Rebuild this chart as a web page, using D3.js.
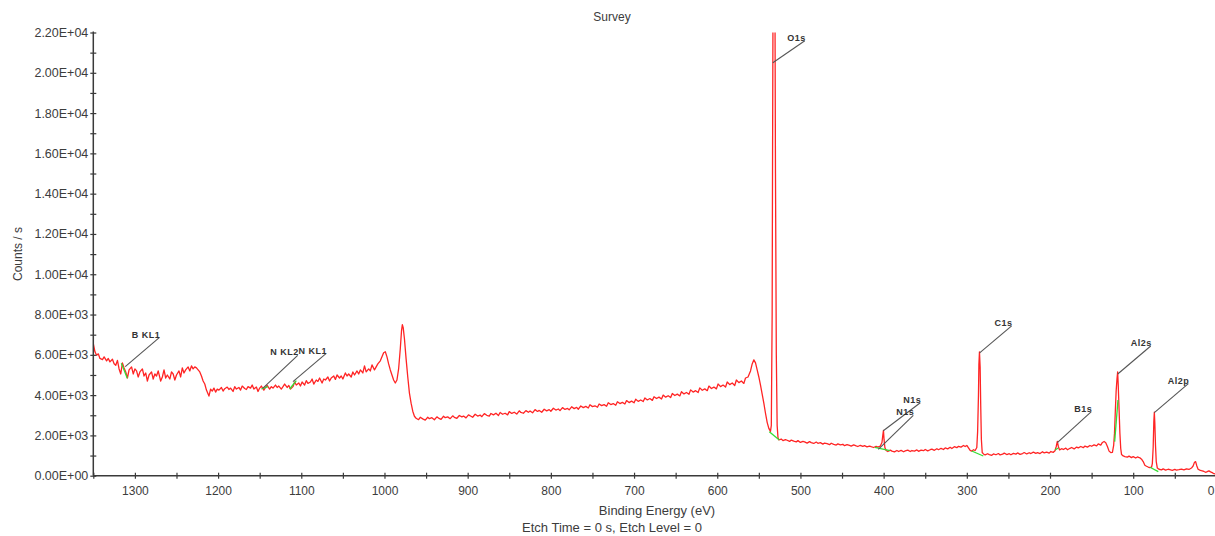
<!DOCTYPE html>
<html>
<head>
<meta charset="utf-8">
<script src="https://cdn.jsdelivr.net/npm/d3@7"></script>
<style>
  html, body { margin: 0; padding: 0; background: #fff; }
  svg { display: block; font-family: "Liberation Sans", Arial, sans-serif; }
</style>
</head>
<body>
<svg id="chart" width="1215" height="536"></svg>
<script>
// XPS survey spectrum: [binding energy (eV), counts / s]
const spectrum = [
  [1350,6550],[1348,6150],[1346,5980],[1344,6050],[1342,5820],[1339,5760],[1337,5900],[1334,5700],
  [1332,5820],[1330,5650],[1327,5780],[1325,5560],[1323,5480],[1321,5720],[1319,5300],[1317,5050],
  [1315,5600],[1313,5350],[1311,5150],[1309,4850],[1307,5250],[1304,5400],[1302,5050],[1300,5300],
  [1298,5200],[1296,4900],[1294,5150],[1291,5300],[1289,4950],[1287,5100],[1285,4700],[1283,5000],
  [1280,5150],[1278,4800],[1276,5050],[1274,4950],[1272,5200],[1269,4700],[1267,4900],[1265,5250],
  [1263,4850],[1261,5000],[1258,4800],[1256,5150],[1254,5050],[1252,4750],[1250,5000],[1247,5200],
  [1245,4900],[1243,5350],[1241,5100],[1239,5250],[1236,5400],[1234,5200],[1232,5450],[1230,5300],
  [1228,5400],[1226,5350],[1224,5250],[1222,5150],[1220,4950],[1218,4700],[1216,4550],[1214,4250],
  [1212,4050],[1211,3950],[1209,4300],[1207,4200],[1205,4350],[1203,4150],[1201,4300],[1199,4250],
  [1196,4380],[1194,4200],[1192,4320],[1189,4400],[1187,4280],[1185,4350],[1182,4180],[1180,4420],
  [1178,4300],[1175,4380],[1173,4250],[1171,4450],[1168,4330],[1166,4280],[1164,4420],[1161,4350],
  [1159,4500],[1157,4300],[1154,4400],[1152,4180],[1150,4350],[1148,4450],[1145,4250],[1143,4380],
  [1141,4480],[1138,4300],[1136,4420],[1134,4350],[1131,4500],[1129,4380],[1127,4450],[1124,4300],
  [1122,4420],[1120,4550],[1117,4380],[1115,4480],[1113,4300],[1110,4420],[1108,4650],[1106,4500],
  [1103,4600],[1101,4450],[1099,4650],[1096,4500],[1094,4720],[1092,4580],[1089,4650],[1087,4800],
  [1085,4550],[1082,4750],[1080,4680],[1078,4850],[1075,4600],[1073,4800],[1071,4750],[1068,4900],
  [1066,4700],[1064,4850],[1061,4950],[1059,4780],[1057,5000],[1054,4850],[1052,4950],[1050,4800],
  [1047,5100],[1045,4950],[1043,5050],[1040,4900],[1038,5150],[1036,5000],[1033,5200],[1031,5050],
  [1029,5250],[1026,5100],[1024,5450],[1022,5150],[1019,5300],[1017,5200],[1015,5500],[1012,5250],
  [1010,5400],[1008,5550],[1005,5700],[1003,5900],[1001,6100],[999,6150],[997,5900],[995,5550],
  [993,5250],[991,5000],[989,4750],[987,4600],[985,4750],[983,5300],[981,6300],[979.5,7200],
  [978.5,7500],[977.5,7350],[976,6800],[974,5800],[972,4900],[970,4100],[968,3600],[966,3200],
  [964,2950],[962,2850],[959,2780],[957,2900],[954,2820],[951,2760],[948,2900],[946,2830],
  [943,2880],[940,2780],[937,2920],[935,2860],[932,2800],[929,2950],[927,2880],[924,2920],
  [921,2830],[918,2970],[916,2900],[913,2850],[910,2990],[907,2920],[905,2960],[902,2870],
  [899,3020],[896,2950],[894,2900],[891,3050],[888,2960],[885,3010],[883,2930],[880,3080],
  [877,3000],[874,2960],[872,3090],[869,3020],[866,3100],[863,2990],[861,3140],[858,3050],
  [855,3100],[852,3020],[850,3180],[847,3090],[844,3150],[841,3060],[838,3220],[836,3140],
  [833,3100],[830,3230],[827,3150],[825,3210],[822,3120],[819,3280],[816,3190],[814,3240],
  [811,3150],[808,3300],[805,3220],[802,3280],[800,3200],[797,3350],[794,3260],[791,3310],
  [789,3230],[786,3380],[783,3290],[780,3340],[778,3270],[775,3420],[772,3330],[769,3390],
  [767,3300],[764,3460],[761,3380],[758,3440],[755,3360],[753,3520],[750,3430],[747,3470],
  [744,3400],[742,3560],[739,3480],[736,3530],[733,3450],[731,3620],[728,3530],[725,3580],
  [722,3500],[720,3670],[717,3580],[714,3640],[711,3560],[709,3730],[706,3630],[703,3700],
  [700,3620],[698,3800],[695,3690],[692,3760],[689,3680],[687,3860],[684,3760],[681,3830],
  [678,3740],[676,3920],[673,3830],[670,3900],[667,3810],[665,4000],[662,3900],[659,3970],
  [656,3880],[654,4080],[651,3980],[648,4050],[645,3960],[643,4170],[640,4060],[637,4130],
  [634,4040],[632,4260],[629,4150],[626,4220],[623,4130],[621,4360],[618,4240],[615,4310],
  [612,4220],[610,4450],[607,4330],[604,4400],[601,4310],[599,4550],[596,4420],[593,4500],
  [590,4400],[588,4650],[585,4520],[582,4600],[579,4480],[577,4750],[574,4620],[571,4700],
  [568,4580],[566,4850],[563,4900],[560,5200],[558,5550],[556,5750],[554,5600],[552,5250],
  [550,4900],[548,4500],[546,4050],[544,3600],[542,3100],[540,2650],[538,2350],[536,2200],
  [535,2500],[534,8000],[533.5,16000],[533,23000],[532,28000],[531,27000],[530.5,22000],[530,15000],
  [529,6000],[528,2500],[527,1900],[526,1780],[523,1820],[521,1740],[518,1790],[516,1760],
  [513,1700],[511,1770],[508,1720],[505,1680],[503,1740],[500,1650],[497,1700],[495,1680],
  [492,1620],[489,1690],[487,1640],[484,1600],[481,1670],[479,1610],[476,1640],[473,1570],
  [471,1620],[468,1590],[465,1540],[463,1610],[460,1560],[457,1520],[455,1580],[452,1530],
  [449,1560],[447,1490],[444,1540],[441,1500],[439,1470],[436,1530],[433,1480],[431,1450],
  [428,1510],[425,1460],[423,1490],[420,1430],[417,1470],[415,1440],[412,1400],[409,1460],
  [407,1420],[404,1470],[402,1650],[401,2000],[400.2,2250],[399.5,1800],[398.5,1400],[397,1250],
  [395,1200],[392,1270],[390,1220],[387,1180],[384,1250],[382,1200],[379,1260],[376,1190],
  [374,1230],[371,1270],[368,1200],[366,1250],[363,1220],[360,1280],[358,1210],[355,1270],
  [352,1240],[350,1300],[347,1230],[344,1290],[342,1320],[339,1260],[336,1340],[334,1290],
  [331,1360],[328,1300],[326,1380],[323,1330],[320,1410],[318,1350],[315,1440],[312,1390],
  [310,1460],[307,1420],[304,1500],[302,1450],[300,1500],[298,1380],[296,1260],[294,1220],
  [292,1290],[290,1250],[288,1400],[287,2200],[286,4000],[285.5,5500],[284.8,6150],[284,5400],
  [283.3,3500],[282.5,1800],[281.5,1150],[280,1080],[278,1030],[275,1090],[273,1050],[270,1010],
  [268,1080],[265,1040],[262,1100],[260,1030],[257,1070],[255,1120],[252,1050],[249,1090],
  [247,1040],[244,1110],[241,1070],[239,1130],[236,1060],[233,1100],[231,1150],[228,1080],
  [225,1140],[223,1100],[220,1170],[217,1110],[215,1150],[212,1100],[209,1190],[207,1130],
  [204,1170],[201,1120],[199,1200],[196,1160],[194,1240],[192.5,1450],[191.2,1700],[190,1450],
  [188.5,1280],[186,1340],[184,1300],[181,1370],[179,1290],[176,1360],[174,1400],[171,1330],
  [168,1420],[166,1380],[163,1450],[160,1390],[158,1470],[155,1420],[152,1500],[150,1460],
  [147,1530],[144,1480],[142,1580],[139,1520],[137,1650],[135,1700],[133,1640],[131,1450],
  [129,1220],[127,1150],[125,1160],[123.5,1500],[122.5,2100],[121.5,3200],[120.5,4200],[119.5,4800],
  [118.7,5150],[118,4500],[117,3300],[116,2100],[115,1350],[114,1050],[112,980],[110,950],
  [107,920],[105,970],[102,900],[100,950],[97,880],[95,930],[92,890],[90,820],
  [88,700],[86,520],[84,470],[82,430],[80,400],[78,420],[77,600],[76,1400],
  [75.2,2700],[74.6,3150],[74,2600],[73.2,1500],[72.3,700],[71,380],[69,320],[66,290],
  [64,340],[61,280],[58,320],[56,300],[53,270],[50,310],[48,280],[45,300],
  [42,330],[39,290],[36,340],[33,310],[30,380],[28,480],[26.5,650],[25,700],
  [23.5,480],[22,320],[20,280],[18,250],[15,210],[13,170],[11,200],[9,240],
  [7,190],[5,150],[3,100],[1,80],[0,90]
];

// Fitted backgrounds under identified peaks: [startBE, startCounts, endBE, endCounts]
const backgrounds = [
  [1316.3,5580,1309.1,4835],
  [1148.1,4304,1140.0,4418],
  [1114.0,4304,1106.0,4716],
  [537.4,2184,525.4,1772],
  [410.5,1410,392.5,1241],
  [294.1,1226,280.2,978],
  [194.0,1276,190.0,1375],
  [122.3,1690,118.3,3760],
  [79.8,417,69.8,199]
];

// Peak identifications: name, binding energy, counts at the marker
const peakNames  = ["B KL1","N KL2","N KL1","O1s","N1s","N1s","C1s","B1s","Al2s","Al2p"];
const peakEnergy = [1311.6, 1146.4, 1110.0, 533.2, 400.4, 406.4, 284.6, 191.2, 118.6, 74.6];
const peakCounts = [5411,   4339,   4666,   20500, 2234,  1310,  6100,  1638,  5050,  3127];

// leader line offsets (px) from each marker to its label
const leaderOffsets = [[34,-29],[35,-33],[33,-28],[32,-22],[37,-28],[35,-34],[32,-27],[34,-31],[33,-28],[34,-29]];

const yTickValues = d3.range(0, 22001, 1000);
const yTickLabels = ["0.00E+00","2.00E+03","4.00E+03","6.00E+03","8.00E+03","1.00E+04",
                     "1.20E+04","1.40E+04","1.60E+04","1.80E+04","2.00E+04","2.20E+04"];
const xTickValues = d3.range(0, 1351, 50);
const xTickLabels = ["0","100","200","300","400","500","600","700","800","900",
                     "1000","1100","1200","1300"];

const titleText = "Survey";
const xTitle = "Binding Energy (eV)";
const yTitle = "Counts / s";
const subTitle = "Etch Time = 0 s, Etch Level = 0";

// ---- layout ----
const svg = d3.select("#chart");
const plotLeft = 93.3, plotRight = 1216.4, plotTop = 32.5, plotBottom = 475.7;

const x = d3.scaleLinear().domain([1350, 0]).range([plotLeft, plotRight]);
const y = d3.scaleLinear().domain([0, 22000]).range([plotBottom, plotTop]);

const axisColor = "#3a3a3a";
const textColor = "#3c3c3c";

svg.append("defs").append("clipPath").attr("id", "plot-clip")
  .append("rect").attr("x", plotLeft).attr("y", plotTop)
  .attr("width", plotRight - plotLeft).attr("height", plotBottom - plotTop);

// ---- spectrum ----
const line = d3.line().x(d => x(d[0])).y(d => y(d[1]));
svg.append("path")
  .datum(spectrum)
  .attr("clip-path", "url(#plot-clip)")
  .attr("d", line)
  .attr("fill", "none")
  .attr("stroke", "#ff2424")
  .attr("stroke-width", 1.3)
  .attr("stroke-linejoin", "round");

// ---- backgrounds ----
svg.append("g").selectAll("line")
  .data(backgrounds)
  .join("line")
  .attr("x1", d => x(d[0])).attr("y1", d => y(d[1]))
  .attr("x2", d => x(d[2])).attr("y2", d => y(d[3]))
  .attr("stroke", "#33dd33")
  .attr("stroke-width", 1.3);

// ---- peak labels with leader lines ----
const labels = svg.append("g");
peakNames.forEach((name, i) => {
  const px = x(peakEnergy[i]), py = y(peakCounts[i]);
  const ex = px + leaderOffsets[i][0], ey = py + leaderOffsets[i][1];
  labels.append("line")
    .attr("x1", px).attr("y1", py).attr("x2", ex).attr("y2", ey)
    .attr("stroke", "#555").attr("stroke-width", 1.1);
  labels.append("text")
    .attr("x", ex + 1).attr("y", ey)
    .attr("text-anchor", "end")
    .attr("font-size", 9).attr("font-weight", "bold")
    .attr("letter-spacing", 0.5)
    .attr("fill", "#333")
    .text(name);
});

// ---- axes ----
const yAxis = d3.axisLeft(y)
  .tickValues(yTickValues)
  .tickSize(0)
  .tickFormat(d => (d % 2000 === 0 ? yTickLabels[d / 2000] : ""));
const gy = svg.append("g").attr("transform", `translate(${plotLeft},0)`).call(yAxis);
gy.select(".domain").remove();
gy.selectAll(".tick text")
  .attr("x", -5)
  .attr("font-size", 12.5)
  .attr("font-family", "Liberation Sans, Arial, sans-serif")
  .attr("fill", textColor);
gy.selectAll(".tick").append("line")
  .attr("x1", -3).attr("x2", 3)
  .attr("stroke", axisColor).attr("stroke-width", 1.2);

const xAxis = d3.axisBottom(x)
  .tickValues(xTickValues)
  .tickSize(0)
  .tickFormat(d => (d % 100 === 0 ? xTickLabels[d / 100] : ""));
const gx = svg.append("g").attr("transform", `translate(0,${plotBottom})`).call(xAxis);
gx.select(".domain").remove();
gx.selectAll(".tick text")
  .attr("y", 11)
  .attr("font-size", 12)
  .attr("font-family", "Liberation Sans, Arial, sans-serif")
  .attr("fill", textColor);
// keep the zero label inside the page edge
gx.selectAll(".tick text").filter(d => d === 0).attr("text-anchor", "end").attr("dx", -2.5);
gx.selectAll(".tick").append("line")
  .attr("y1", -3).attr("y2", 3)
  .attr("stroke", axisColor).attr("stroke-width", 1.2);

// axis lines
svg.append("line").attr("x1", plotLeft).attr("x2", plotLeft).attr("y1", plotTop - 1).attr("y2", plotBottom)
  .attr("stroke", axisColor).attr("stroke-width", 1.5);
svg.append("line").attr("x1", plotLeft).attr("x2", 1215).attr("y1", plotBottom).attr("y2", plotBottom)
  .attr("stroke", axisColor).attr("stroke-width", 1.5);

// ---- titles ----
svg.append("text").attr("x", 612).attr("y", 21).attr("text-anchor", "middle")
  .attr("font-size", 12).attr("fill", textColor).text(titleText);
svg.append("text").attr("x", 657).attr("y", 515).attr("text-anchor", "middle")
  .attr("font-size", 13).attr("fill", textColor).text(xTitle);
svg.append("text").attr("x", 612).attr("y", 532).attr("text-anchor", "middle")
  .attr("font-size", 13).attr("fill", textColor).text(subTitle);
svg.append("text")
  .attr("transform", "translate(22,254) rotate(-90)")
  .attr("text-anchor", "middle")
  .attr("font-size", 12).attr("fill", textColor).text(yTitle);
</script>
</body>
</html>
